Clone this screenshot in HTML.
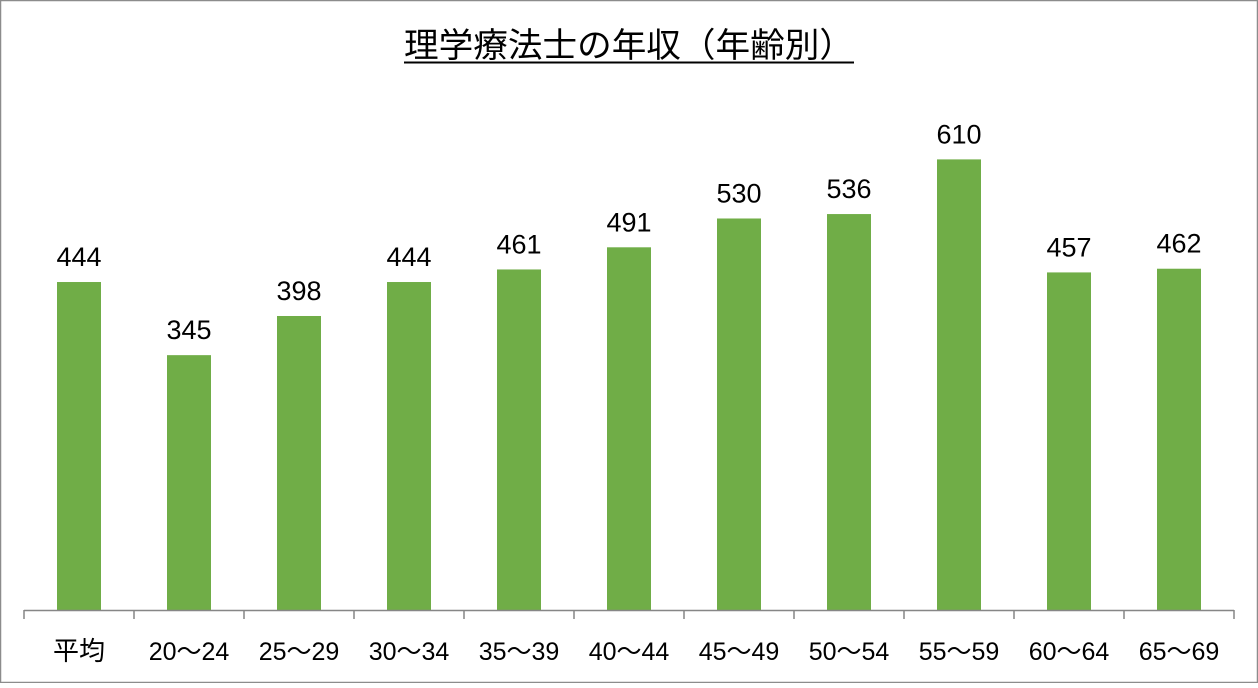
<!DOCTYPE html>
<html><head><meta charset="utf-8"><style>
body{margin:0;background:#fff}
svg text{font-family:"Liberation Sans","Noto Sans CJK JP",sans-serif;fill:#000}
svg text.t{font-family:"Noto Sans CJK JP",sans-serif}
</style></head><body>
<svg width="1258" height="683" viewBox="0 0 1258 683" xmlns="http://www.w3.org/2000/svg">
<rect x="0.5" y="0.5" width="1257" height="682" fill="#fff" stroke="#8c8c8c" stroke-width="1.5"/>
<text class="t" x="404" y="57" font-size="34" textLength="450" lengthAdjust="spacingAndGlyphs">理学療法士の年収（年齢別）</text>
<line x1="404" y1="62.5" x2="854" y2="62.5" stroke="#000" stroke-width="2"/>
<g id="bars"></g>
<line x1="24" y1="610.5" x2="1234" y2="610.5" stroke="#868686" stroke-width="1.5"/>
<g id="ticks" stroke="#868686" stroke-width="1.5"></g>
<g id="labels"></g>
<script>
var v=[444,345,398,444,461,491,530,536,610,457,462];
var c=["平均","20〜24","25〜29","30〜34","35〜39","40〜44","45〜49","50〜54","55〜59","60〜64","65〜69"];
var ns="http://www.w3.org/2000/svg",b=document.getElementById("bars"),t=document.getElementById("ticks"),l=document.getElementById("labels");
function el(n,a,p,tx){var e=document.createElementNS(ns,n);for(var k in a)e.setAttribute(k,a[k]);if(tx)e.textContent=tx;p.appendChild(e);return e;}
for(var i=0;i<=11;i++){var x=24+110*i;el("line",{x1:x,y1:610,x2:x,y2:619},t);}
for(var i=0;i<11;i++){var cx=79+110*i,h=v[i]*0.7387,y=610-h;
el("rect",{x:cx-22,y:y,width:44,height:h,fill:"#70ad47"},b);
el("text",{x:cx,y:y-16,"font-size":"27","text-anchor":"middle"},l,String(v[i]));
var a={x:cx,y:660,"font-size":i==0?"26":"25","text-anchor":"middle"};if(i==0)a["class"]="t";
el("text",a,l,c[i]);}
</script>
</svg>
</body></html>
